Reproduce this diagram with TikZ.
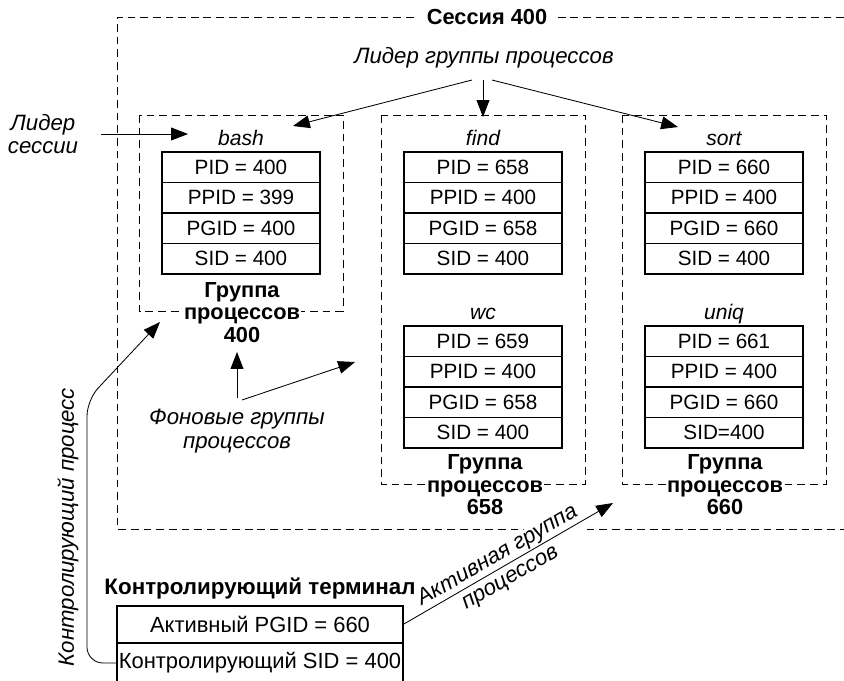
\documentclass[tikz,border=0pt]{standalone}
\usepackage{fontspec}
\setmainfont{Liberation Sans}
\usetikzlibrary{arrows.meta,positioning}

\tikzset{
  row/.style={draw, line width=0.8pt, outer sep=0pt, inner sep=0pt,
    minimum width=3.95cm, minimum height=0.7625cm,
    font=\fontsize{14.7}{17}\selectfont},
  trow/.style={row, minimum width=7.15cm, minimum height=0.925cm,
    font=\fontsize{15.6}{17}\selectfont},
  procname/.style={inner sep=0pt, font=\fontsize{15}{17}\selectfont\itshape},
  grp/.style={line width=0.6pt, dash pattern=on 5.5pt off 3.5pt},
  grplbl/.style={fill=white, align=center, inner sep=1pt,
    font=\fontsize{15.5}{16}\selectfont\bfseries},
  lbl/.style={align=center, inner sep=1pt, font=\fontsize{15.8}{16.5}\selectfont\itshape},
  arr/.style={line width=0.6pt, -{Triangle[length=0.42cm,width=0.32cm]}}
}

% one process: name, x, top of table, title, PID, PPID, PGID, SID line
\newcommand{\proctab}[8]{%
  \node[procname, anchor=base] (#1) at (#2,#3-7) {#4};
  \node[row, anchor=north] (#1-1) at (#2,#3) {PID = #5};
  \node[row, below=0pt of #1-1] (#1-2) {PPID = #6};
  \node[row, below=0pt of #1-2] (#1-3) {PGID = #7};
  \node[row, below=0pt of #1-3] (#1-4) {#8};
}

\begin{document}
\begin{tikzpicture}[x=0.025cm,y=-0.025cm]
  \useasboundingbox (0,0) rectangle (844,680);

  % session and process groups
  \draw[grp] (844,17) -| (117,529) -- (844,529);
  \node[grplbl, inner xsep=7pt] (ses) at (487,17) {Сессия 400};
  \draw[grp] (139,115) rectangle (343,311);
  \draw[grp] (381,115) rectangle (585,484);
  \draw[grp] (622,115) rectangle (826,484);

  \proctab{bash}{241}{152}{bash}{400}{399}{400}{SID = 400}
  \proctab{find}{483}{152}{find}{658}{400}{658}{SID = 400}
  \proctab{sort}{724}{152}{sort}{660}{400}{660}{SID = 400}
  \proctab{wc}{483}{326}{wc}{659}{400}{658}{SID = 400}
  \proctab{uniq}{724}{326}{uniq}{661}{400}{660}{SID=400}

  \node[grplbl] (g400) at (242,312.5) {Группа\\процессов\\400};
  \node[grplbl] (g658) at (485,485) {Группа\\процессов\\658};
  \node[grplbl] (g660) at (725,485) {Группа\\процессов\\660};

  % leaders
  \node[lbl] (lgp) at (484,58) {Лидер группы процессов};
  \coordinate (lgp-l) at (472,80);
  \coordinate (lgp-m) at (483,80);
  \coordinate (lgp-r) at (492,80);
  \coordinate (bash-in) at (293,126);
  \coordinate (find-in) at (483,117);
  \coordinate (sort-in) at (678,127);
  \draw[arr] (lgp-l) -- (bash-in);
  \draw[arr] (lgp-m) -- (find-in);
  \draw[arr] (lgp-r) -- (sort-in);

  \node[lbl] (sl) at (43,134) {Лидер\\сессии};
  \coordinate (sl-a) at (101,134);
  \coordinate (bash-sl) at (188,134);
  \draw[arr] (sl-a) -- (bash-sl);

  % background groups
  \node[lbl] (bg) at (237,431) {Фоновые группы\\процессов};
  \coordinate (bg-a) at (237,398);
  \coordinate (bg-b) at (242,400);
  \coordinate (g400-in) at (237,352);
  \coordinate (wc-in) at (355,362);
  \draw[arr] (bg-a) -- (g400-in);
  \draw[arr] (bg-b) -- (wc-in);

  % terminal
  \node[grplbl, fill=none, font=\fontsize{15.9}{16}\selectfont\bfseries] (term) at (260,588) {Контролирующий терминал};
  \node[trow] (tpgid) at (260,624.5) {Активный PGID = 660};
  \node[trow, below=0pt of tpgid, minimum height=1cm] (tsid) {Контролирующий SID = 400};

  \node[lbl, rotate=90] (cp) at (68,527) {Контролирующий процесс};
  \coordinate (cp-tip) at (160,322);
  \draw[arr, rounded corners=0.4cm] (tsid.west) -- (87,663) -- (87,400) -- (cp-tip);

  \node[lbl, rotate=30, fill=white, inner sep=0pt, font=\fontsize{15.8}{18}\selectfont\itshape] (act) at (504,567) {Активная группа\\процессов};
  \coordinate (sort-act) at (613,503);
  \draw[arr] (tpgid.east) -- (sort-act);
\end{tikzpicture}
\end{document}
